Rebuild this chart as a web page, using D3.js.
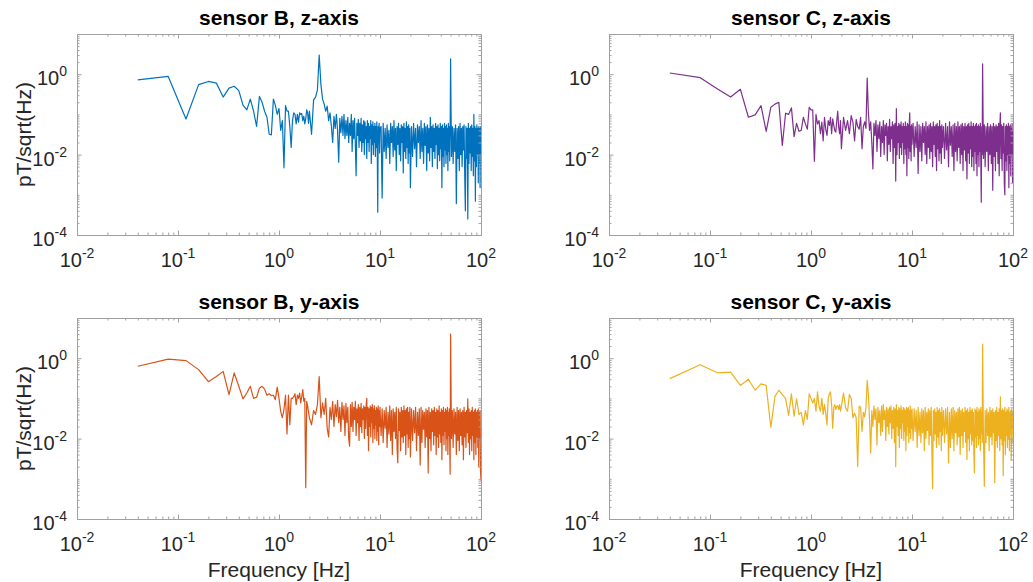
<!DOCTYPE html>
<html>
<head>
<meta charset="utf-8">
<script src="https://d3js.org/d3.v7.min.js"></script>
<style>
body { margin: 0; background: #fff; }
text { font-family: "Liberation Sans", Arial, Helvetica, sans-serif; fill: #262626; }
</style>
</head>
<body>
<script>
// frequency bins [Hz], shared by all four spectra
var freq = [
    0.04, 0.08, 0.12, 0.16, 0.2, 0.24, 0.28, 0.32, 0.36, 0.4,
    0.44, 0.48, 0.52, 0.56, 0.6, 0.64, 0.68, 0.72, 0.76, 0.8,
    0.84, 0.88, 0.92, 0.96, 1, 1.04, 1.08, 1.12, 1.16, 1.2,
    1.24, 1.28, 1.32, 1.36, 1.4, 1.44, 1.48, 1.52, 1.56, 1.6,
    1.64, 1.68, 1.72, 1.76, 1.8, 1.84, 1.88, 1.92, 1.96, 2,
    2.1, 2.2, 2.3, 2.4, 2.5, 2.6, 2.7, 2.8, 2.9, 3,
    3.1, 3.2, 3.3, 3.4, 3.5, 3.6, 3.7, 3.8, 3.9, 4,
    4.1, 4.2, 4.3, 4.4, 4.5, 4.6, 4.7, 4.8, 4.9, 5,
    5.1, 5.2, 5.3, 5.4, 5.5, 5.6, 5.7, 5.8, 5.9, 6,
    6.1, 6.2, 6.3, 6.4, 6.5, 6.6, 6.7, 6.8, 6.9, 7,
    7.1, 7.2, 7.3, 7.4, 7.5, 7.6, 7.7, 7.8, 7.9, 8,
    8.1, 8.2, 8.3, 8.4, 8.5, 8.6, 8.7, 8.8, 8.9, 9,
    9.1, 9.2, 9.3, 9.4, 9.5, 9.6, 9.7, 9.8, 9.9, 10,
    10.25, 10.5, 10.75, 11, 11.25, 11.5, 11.75, 12, 12.25, 12.5,
    12.75, 13, 13.25, 13.5, 13.75, 14, 14.25, 14.5, 14.75, 15,
    15.25, 15.5, 15.75, 16, 16.25, 16.5, 16.75, 17, 17.25, 17.5,
    17.75, 18, 18.25, 18.5, 18.75, 19, 19.25, 19.5, 19.75, 20,
    20.5, 21, 21.5, 22, 22.5, 23, 23.5, 24, 24.5, 25,
    25.5, 26, 26.5, 27, 27.5, 28, 28.5, 29, 29.5, 30,
    30.5, 31, 31.5, 32, 32.5, 33, 33.5, 34, 34.5, 35,
    35.5, 36, 36.5, 37, 37.5, 38, 38.5, 39, 39.5, 40,
    40.5, 41, 41.5, 42, 42.5, 43, 43.5, 44, 44.5, 45,
    45.5, 46, 46.5, 47, 47.5, 48, 48.5, 49, 49.5, 50,
    51, 52, 53, 54, 55, 56, 57, 58, 59, 60,
    61, 62, 63, 64, 65, 66, 67, 68, 69, 70,
    71, 72, 73, 74, 75, 76, 77, 78, 79, 80,
    81, 82, 83, 84, 85, 86, 87, 88, 89, 90,
    91, 92, 93, 94, 95, 96, 97, 98, 99, 100
];

// amplitude spectra [pT/sqrt(Hz)]
var sensorBz = [
    .72, .88, .077, .55, .66, .6, .27, .45, .5, .39,
    .17, .13, .24, .12, .05, .28, .2, .12, .085, .032,
    .031, .24, .17, .1, .14, .04, .07, .0047, .165, .12,
    .12, .05, .015, .07, .11, .1, .058, .1, .064, .11,
    .1, .105, .07, .09, .058, .077, .13, .11, .06, .12,
    .032, .23, .27, .4, 3, .55, .24, .18, .12, .16,
    .07, .11, .05, .02, .09, .045, .1, .04, .0065, .08,
    .035, .09, .03, .1, .025, .07, .03, .085, .02, .06,
    .03, .1, .012, .07, .025, .08, .018, .003, .06, .03,
    .075, .015, .06, .022, .08, .012, .055, .02, .07, .01,
    .065, .025, .05, .008, .07, .02, .06, .012, .05, .025,
    .07, .006, .055, .018, .065, .01, .05, .02, .06, .009,
    .05, .015, .065, .012, .00037, .05, .02, .06, .011, .045,
    .05, .00083, .06, .012, .045, .008, .055, .015, .04, .006,
    .06, .02, .05, .009, .07, .013, .045, .004, .05, .018,
    .06, .01, .045, .007, .055, .02, .05, .0035, .06, .012,
    .045, .008, .065, .015, .05, .006, .055, .011, .045, .0015,
    .05, .009, .06, .014, .045, .005, .055, .02, .05, .008,
    .07, .012, .045, .006, .06, .017, .05, .004, .055, .011,
    .045, .007, .085, .015, .05, .005, .055, .012, .045, .008,
    .06, .018, .05, .0045, .055, .01, .045, .007, .06, .014,
    .05, .0015, .055, .009, .045, .005, .06, .013, .05, .006,
    .055, .01, .045, .004, .06, .012, .05, .007, .045, 2.4,
    .009, .05, .006, .045, .012, .055, .0006, .045, .008, .05,
    .004, .06, .01, .045, .005, .05, .013, .055, .003, .0004,
    .05, .008, .045, .00025, .06, .006, .045, .011, .05, .004,
    .055, .009, .045, .003, .1, .007, .05, .0007, .045, .005,
    .055, .01, .045, .002, .05, .006, .045, .0015, .05, .01
];

var sensorCz = [
    1.07, .82, .42, .27, .42, .085, .097, .165, .038, .15,
    .18, .2, .017, .107, .1, .145, .028, .06, .038, .04,
    .085, .058, .043, .15, .13, .13, .0068, .1, .058, .07,
    .033, .064, .022, .085, .043, .03, .07, .053, .085, .033,
    .077, .053, .04, .036, .07, .12, .048, .033, .07, .014,
    .085, .04, .07, .033, .093, .064, .022, .075, .05, .043,
    .085, .014, .05, .065, .045, .8, .11, .04, .065, .02,
    .0044, .06, .03, .07, .012, .055, .025, .065, .009, .05,
    .02, .07, .01, .055, .03, .06, .007, .05, .018, .075,
    .012, .05, .025, .065, .006, .055, .015, .06, .0022, .14,
    .01, .05, .02, .06, .008, .055, .015, .065, .01, .05,
    .02, .06, .006, .05, .014, .065, .01, .05, .003, .06,
    .015, .055, .008, .06, .11, .012, .05, .007, .055, .018,
    .06, .009, .05, .015, .065, .0034, .055, .012, .05, .007,
    .06, .02, .05, .01, .065, .006, .05, .015, .055, .008,
    .06, .012, .05, .005, .065, .018, .05, .009, .055, .004,
    .06, .014, .05, .007, .07, .011, .05, .006, .055, .015,
    .05, .008, .06, .013, .05, .005, .065, .017, .05, .009,
    .055, .004, .06, .012, .05, .007, .065, .015, .05, .006,
    .055, .01, .06, .004, .05, .013, .06, .007, .05, .0025,
    .055, .011, .06, .006, .05, .014, .065, .005, .05, .009,
    .06, .004, .05, .012, .055, .006, .06, .003, .05, .01,
    .055, .005, .05, .012, .06, .007, .00065, .05, .01, 1.8,
    .008, .055, .005, .05, .012, .06, .004, .05, .01, .055,
    .006, .05, .0013, .06, .009, .05, .004, .055, .012, .05,
    .006, .06, .003, .05, .11, .008, .055, .004, .05, .011,
    .06, .002, .001, .05, .007, .055, .004, .05, .01, .06,
    .0015, .05, .006, .055, .003, .05, .009, .06, .002, .04
];

var sensorBy = [
    .63, .95, .87, .52, .26, .35, .47, .124, .43, .2,
    .097, .136, .2, .1, .107, .18, .2, .17, .12, .13,
    .117, .12, .093, .19, .1, .047, .033, .053, .12, .013,
    .12, .022, .1, .1, .11, .13, .07, .12, .1, .136,
    .077, .11, .165, .085, .1, .0006, .085, .064, .047, .033,
    .022, .05, .04, .07, .35, .033, .077, .04, .1, .018,
    .011, .06, .03, .085, .02, .07, .035, .09, .025, .06,
    .015, .08, .03, .065, .012, .075, .025, .06, .01, .0065,
    .07, .02, .08, .015, .06, .03, .085, .012, .055, .025,
    .07, .009, .06, .02, .075, .014, .055, .03, .065, .01,
    .06, .018, .07, .1, .012, .06, .005, .055, .02, .065,
    .011, .06, .025, .07, .008, .055, .018, .065, .01, .05,
    .022, .06, .009, .055, .015, .065, .007, .05, .02, .06,
    .012, .055, .008, .05, .018, .06, .006, .045, .013, .065,
    .009, .05, .004, .055, .015, .045, .01, .06, .006, .0025,
    .055, .016, .045, .005, .06, .011, .05, .008, .065, .012,
    .05, .004, .055, .013, .06, .006, .045, .01, .06, .0035,
    .055, .009, .05, .014, .06, .005, .045, .012, .055, .0022,
    .06, .008, .05, .017, .045, .006, .055, .011, .05, .0014,
    .06, .01, .045, .005, .055, .015, .05, .007, .06, .012,
    .045, .004, .055, .011, .05, .006, .065, .013, .045, .008,
    .055, .003, .05, .012, .06, .007, .045, .015, .055, .005,
    .05, .01, .06, .004, .045, .012, .055, .007, .0013, 4.0,
    .01, .05, .006, .055, .013, .045, .004, .06, .009, .05,
    .005, .055, .012, .045, .007, .05, .003, .06, .011, .045,
    .006, .05, .014, .097, .008, .055, .004, .045, .01, .05,
    .005, .06, .012, .045, .003, .05, .008, .055, .004, .045,
    .011, .05, .006, .055, .002, .045, .009, .05, .0015, .0009
];

var sensorCy = [
    .31, .69, .43, .45, .21, .3, .16, .23, .21, .019,
    .112, .16, .125, .1, .038, .13, .036, .098, .04, .045,
    .022, .05, .03, .13, .1, .077, .1, .048, .145, .064,
    .048, .1, .04, .07, .043, .022, .1, .13, .145, .07,
    .018, .058, .07, .053, .064, .066, .053, .07, .048, .064,
    .136, .058, .048, .125, .1, .033, .043, .033, .002, .064,
    .06, .015, .045, .035, .06, .28, .125, .03, .0044, .05,
    .02, .065, .03, .055, .007, .06, .025, .05, .012, .065,
    .015, .07, .03, .05, .009, .06, .02, .055, .013, .06,
    .025, .065, .01, .05, .018, .06, .008, .055, .002, .07,
    .02, .05, .012, .06, .006, .055, .018, .065, .01, .05,
    .025, .06, .009, .055, .015, .05, .005, .06, .012, .055,
    .02, .06, .008, .05, .014, .065, .01, .05, .018, .055,
    .009, .055, .015, .05, .006, .06, .012, .045, .008, .055,
    .014, .05, .005, .06, .01, .045, .016, .055, .007, .05,
    .012, .06, .004, .00057, .05, .009, .055, .013, .045, .006,
    .06, .011, .05, .007, .055, .015, .045, .005, .06, .012,
    .05, .008, .055, .013, .06, .0025, .045, .006, .055, .01,
    .06, .005, .05, .014, .045, .007, .055, .011, .06, .004,
    .05, .012, .055, .006, .045, .015, .06, .008, .05, .003,
    .055, .01, .045, .005, .06, .013, .05, .007, .055, .009,
    .045, .004, .0014, .055, .011, .05, .006, .06, .012, .045,
    .007, .055, .01, .05, .005, .06, .013, .045, .008, 2.25,
    .01, .00065, .05, .008, .055, .012, .045, .005, .06, .011,
    .05, .007, .055, .014, .045, .0008, .05, .009, .06, .006,
    .045, .012, .055, .005, .11, .01, .05, .007, .055, .0012,
    .05, .009, .06, .004, .045, .012, .055, .006, .05, .01,
    .06, .005, .045, .013, .05, .003, .055, .008, .045, .02
];

var titles = ["sensor B, z-axis", "sensor C, z-axis", "sensor B, y-axis", "sensor C, y-axis"];
var xTicks = [1e-2, 1e-1, 1e0, 1e1, 1e2];
var yTicks = [1e-4, 1e-2, 1e0];
var yLabel = "pT/sqrt(Hz)";
var xLabel = "Frequency [Hz]";

var w = 1033;
var h = 582;
var pw = 404, ph = 201;
var axisColor = "#a0a0a0";

var panels = [
    { title: titles[0], data: sensorBz, color: "#0072BD", left: 77, top: 34, ylab: true, xlab: false },
    { title: titles[1], data: sensorCz, color: "#7E2F8E", left: 609, top: 34, ylab: false, xlab: false },
    { title: titles[2], data: sensorBy, color: "#D95319", left: 77, top: 318, ylab: true, xlab: true },
    { title: titles[3], data: sensorCy, color: "#EDB120", left: 609, top: 318, ylab: false, xlab: true }
];

var svg = d3.select("body").append("svg").attr("width", w).attr("height", h);

var x = d3.scaleLog().domain([1e-2, 1e2]).range([0, pw]);
var y = d3.scaleLog().domain([1e-4, 1e1]).range([ph, 0]);

// minor ticks at 2..9 x 10^k
var xMinor = [], yMinor = [];
for (var e = -2; e < 2; e++) for (var k = 2; k < 10; k++) xMinor.push(k * Math.pow(10, e));
for (var e = -4; e < 1; e++) for (var k = 1; k < 10; k++) {
    var v = k * Math.pow(10, e);
    if (yTicks.indexOf(v) < 0) yMinor.push(v);
}
yMinor.push(10);

function addPow(sel) {
    // label "10" with the exponent as superscript
    sel.each(function(d) {
        var t = d3.select(this);
        t.append("tspan").text("10");
        t.append("tspan").attr("dy", -9).style("font-size", "14px").text(Math.round(Math.log10(d)));
    });
}

panels.forEach(function(p, i) {
    var g = svg.append("g").attr("transform", "translate(" + p.left + "," + p.top + ")");

    g.append("clipPath").attr("id", "clip" + i)
        .append("rect").attr("width", pw).attr("height", ph);

    var pts = d3.zip(freq, p.data);
    var line = d3.line().x(function(d) { return x(d[0]); }).y(function(d) { return y(d[1]); });
    g.append("path")
        .datum(pts)
        .attr("clip-path", "url(#clip" + i + ")")
        .attr("d", line)
        .attr("fill", "none")
        .attr("stroke", p.color)
        .attr("stroke-width", 1.2)
        .attr("stroke-linejoin", "round");

    // ticks on all four sides, pointing inward
    var axes = [
        [d3.axisBottom, "translate(0," + ph + ")", x, xTicks, xMinor],
        [d3.axisTop, "translate(0,0)", x, xTicks, xMinor],
        [d3.axisLeft, "translate(0,0)", y, yTicks, yMinor],
        [d3.axisRight, "translate(" + pw + ",0)", y, yTicks, yMinor]
    ];
    axes.forEach(function(a) {
        var ga = g.append("g").attr("transform", a[1]).attr("color", axisColor);
        ga.call(a[0](a[2]).tickValues(a[4]).tickSize(-2.5).tickSizeOuter(0).tickFormat(""));
        ga.select(".domain").remove();
        var gb = g.append("g").attr("transform", a[1]).attr("color", axisColor);
        gb.call(a[0](a[2]).tickValues(a[3]).tickSize(-4.5).tickSizeOuter(0).tickFormat(""));
        gb.select(".domain").remove();
    });

    g.append("rect")
        .attr("x", 0.5).attr("y", 0.5)
        .attr("width", pw).attr("height", ph)
        .attr("fill", "none")
        .attr("stroke", axisColor)
        .attr("stroke-width", 1);

    // tick labels
    g.selectAll(".xl").data(xTicks).enter().append("text")
        .attr("class", "xl")
        .attr("x", function(d) { return x(d); })
        .attr("y", ph + 32)
        .attr("text-anchor", "middle")
        .style("font-size", "20px")
        .call(addPow);

    g.selectAll(".yl").data(yTicks).enter().append("text")
        .attr("class", "yl")
        .attr("x", -10)
        .attr("y", function(d) { return y(d) + 11; })
        .attr("text-anchor", "end")
        .style("font-size", "20px")
        .call(addPow);

    g.append("text")
        .attr("x", pw / 2).attr("y", -9)
        .attr("text-anchor", "middle")
        .style("font-size", "21px").style("font-weight", "bold")
        .style("fill", "#000")
        .text(p.title);

    if (p.ylab) {
        g.append("text")
            .attr("transform", "translate(-46," + (ph / 2) + ") rotate(-90)")
            .attr("text-anchor", "middle")
            .style("font-size", "21px")
            .text(yLabel);
    }
    if (p.xlab) {
        g.append("text")
            .attr("x", pw / 2).attr("y", ph + 58)
            .attr("text-anchor", "middle")
            .style("font-size", "21px")
            .text(xLabel);
    }
});
</script>
</body>
</html>
